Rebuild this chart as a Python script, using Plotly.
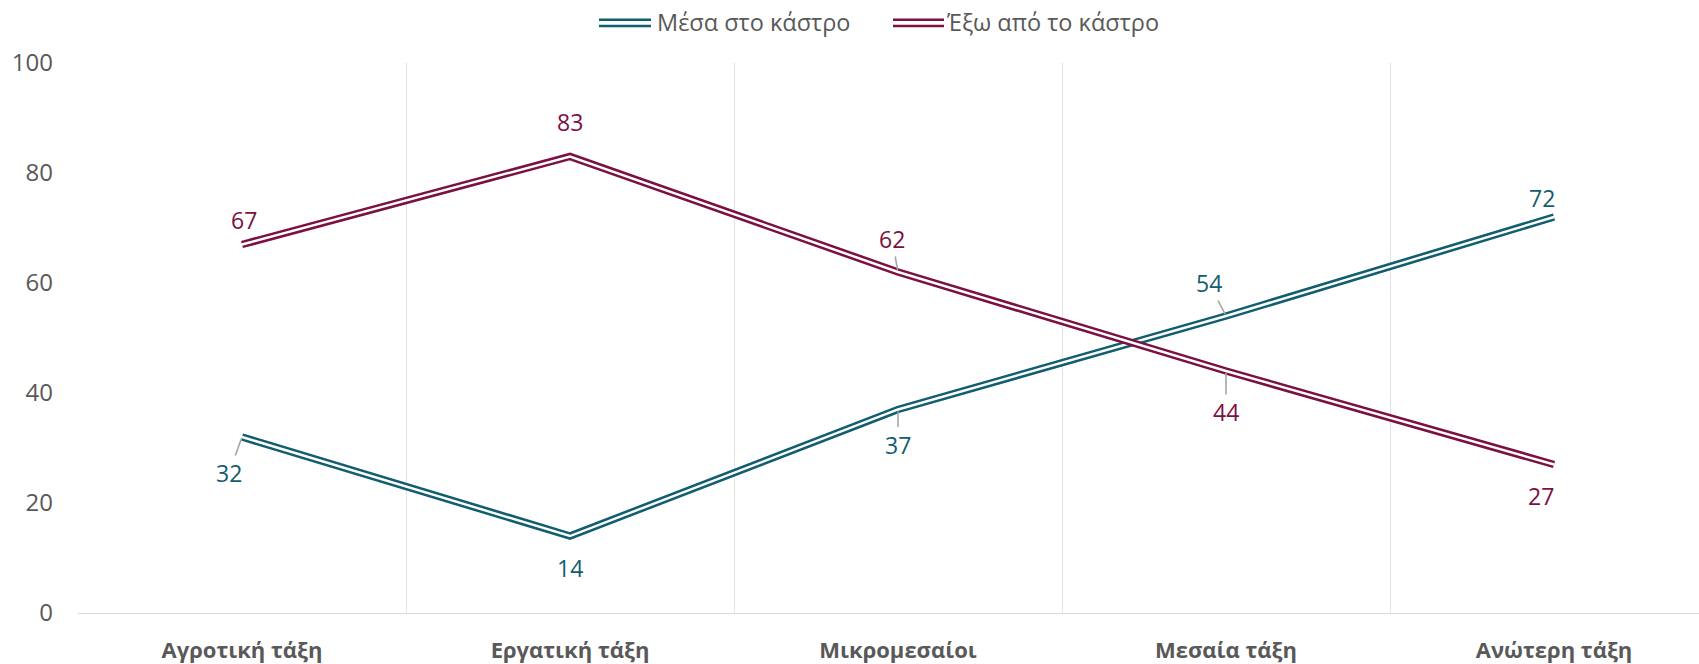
import plotly.graph_objects as go

# Survey data: share of respondents per social class
categories = ["Αγροτική τάξη", "Εργατική τάξη", "Μικρομεσαίοι", "Μεσαία τάξη", "Ανώτερη τάξη"]
inside_castle = [32, 14, 37, 54, 72]
outside_castle = [67, 83, 62, 44, 27]
series_names = ["Μέσα στο κάστρο", "Έξω από το κάστρο"]

TEAL = "#115E70"
MAROON = "#7B1042"
GREY_TEXT = "#595959"
GRID = "#E3E3E3"
FONT = "Open Sans"

# Pixel offsets of each value label from its point (dx, dy, leader line?)
inside_label_pos = [(-13, 36, True), (0, 32, False), (0, 35, True), (-17, -33, True), (-12, -19, False)]
outside_label_pos = [(2, -25, False), (0, -35, False), (-6, -33, True), (0, 41, True), (-13, 31, False)]

W, H = 1699, 664
L, R, T, B = 78, 0, 63, 51
PW, PH = W - L - R, H - T - B

fig = go.Figure()

# Double-stroke lines: a wide coloured stroke with a thin white core
for vals, color, name in [(inside_castle, TEAL, series_names[0]), (outside_castle, MAROON, series_names[1])]:
    fig.add_trace(go.Scatter(x=categories, y=vals, mode="lines", name=name,
                             line=dict(color=color, width=7.5), showlegend=False,
                             hoverinfo="skip"))
    fig.add_trace(go.Scatter(x=categories, y=vals, mode="lines", name=name,
                             line=dict(color="white", width=2.4), showlegend=False,
                             hovertemplate="%{x}: %{y}<extra>" + name + "</extra>"))

annotations = []
for vals, color, pos in [(inside_castle, TEAL, inside_label_pos), (outside_castle, MAROON, outside_label_pos)]:
    for cat, v, (dx, dy, leader) in zip(categories, vals, pos):
        annotations.append(dict(
            x=cat, y=v, xref="x", yref="y", text=str(v), showarrow=True,
            ax=dx, ay=dy, arrowhead=0, arrowwidth=1.6, standoff=2,
            arrowcolor="#A6A6A6" if leader else "rgba(0,0,0,0)",
            font=dict(family=FONT, size=23, color=color)))

# Legend drawn as double-stroke swatches with text
shapes = []
def px_x(px):
    return (px - L) / PW
def px_y(py):
    return (H - B - py) / PH

legend_items = [(599, 651, 655, TEAL, series_names[0]), (893, 944, 944, MAROON, series_names[1])]
for x0, x1, tx, color, name in legend_items:
    for yy in (19.8, 26):
        shapes.append(dict(type="line", xref="paper", yref="paper",
                           x0=px_x(x0), x1=px_x(x1), y0=px_y(yy), y1=px_y(yy),
                           line=dict(color=color, width=2.6)))
    annotations.append(dict(xref="paper", yref="paper", x=px_x(tx), y=px_y(22.5),
                            xanchor="left", yanchor="middle", showarrow=False,
                            text=name, font=dict(family=FONT, size=23.5, color=GREY_TEXT)))

fig.update_layout(
    width=W, height=H,
    margin=dict(l=L, r=R, t=T, b=B),
    plot_bgcolor="white", paper_bgcolor="white",
    showlegend=False,
    shapes=shapes, annotations=annotations,
    xaxis=dict(type="category", range=[-0.5, 4.442], tickson="boundaries",
               showgrid=True, gridcolor=GRID, gridwidth=1.3,
               showline=True, linecolor="#D9D9D9", linewidth=1.3,
               ticks="", ticklabelstandoff=17,
               tickfont=dict(family=FONT, size=22, color=GREY_TEXT, weight="bold"),
               zeroline=False),
    yaxis=dict(range=[0, 100], tickvals=[0, 20, 40, 60, 80, 100],
               showgrid=False, zeroline=False, showline=False,
               ticks="", ticklabelstandoff=24,
               tickfont=dict(family=FONT, size=24, color=GREY_TEXT)),
)

fig.write_html("out.html")
